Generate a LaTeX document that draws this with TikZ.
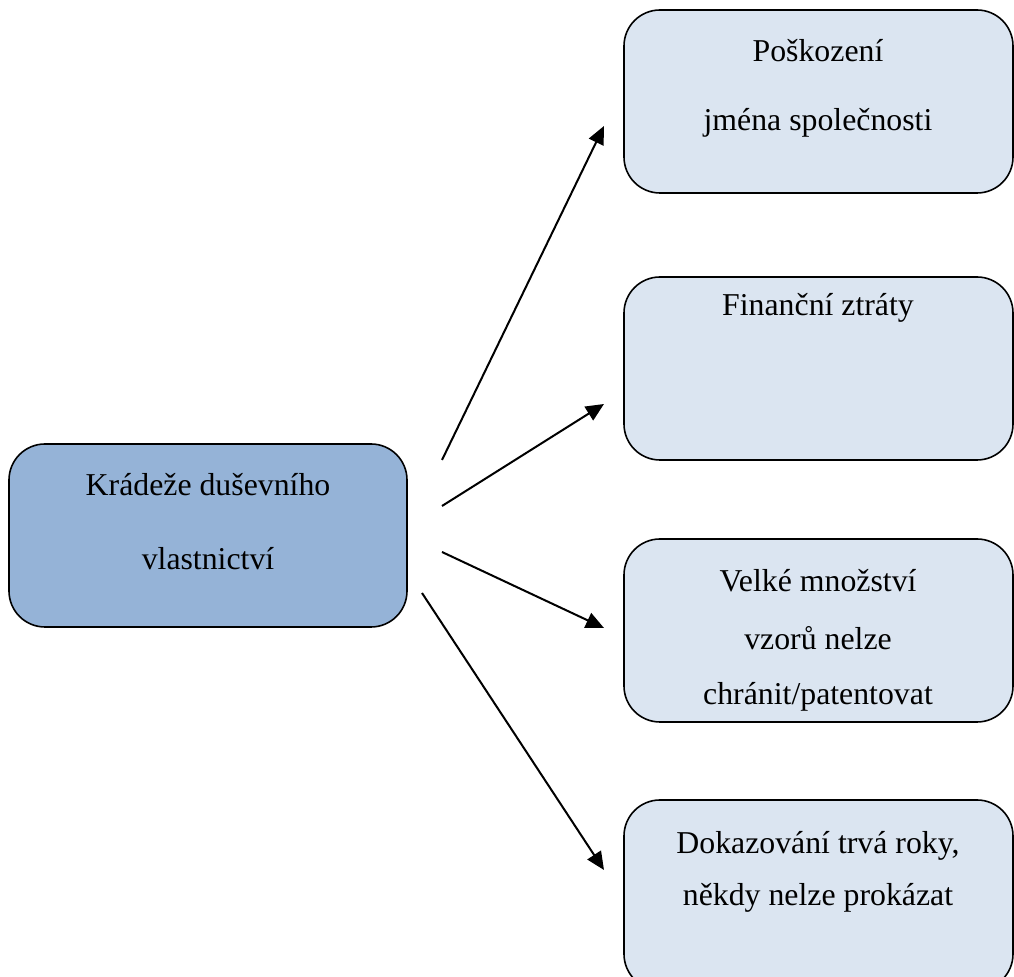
\documentclass[tikz,border=0pt]{standalone}
\usepackage{fontspec}
\setmainfont{Liberation Serif}
\usetikzlibrary{arrows.meta}
\definecolor{mainfill}{HTML}{95B3D7}
\definecolor{subfill}{HTML}{DBE5F1}
\begin{document}
\begin{tikzpicture}[x=0.5pt,y=-0.5pt,
  box/.style={draw=black, line width=0.8pt, rounded corners=18pt, fill=subfill},
  mainbox/.style={box, fill=mainfill},
  txt/.style={anchor=base, font=\fontsize{15.9pt}{19pt}\selectfont, inner sep=0pt},
  conn/.style={line width=1pt, -{Triangle[length=9pt,width=8pt]}}]
\useasboundingbox (0,0) rectangle (1014,977);

% boxes
\draw[mainbox] (9,444) rectangle (407,627);
\draw[box] (624,10) rectangle (1013,193);
\draw[box] (624,277) rectangle (1013,460);
\draw[box] (624,539) rectangle (1013,722);
\draw[box] (624,800) rectangle (1013,990);

% texts
\node[txt] (s1) at (208,496) {Krádeže duševního};
\node[txt] (s2) at (208,570) {vlastnictví};
\node[txt] (a1) at (818,62) {Poškození};
\node[txt] (a2) at (818,131) {jména společnosti};
\node[txt] (b1) at (818,316) {Finanční ztráty};
\node[txt] (c1) at (818,592) {Velké množství};
\node[txt] (c2) at (818,650) {vzorů nelze};
\node[txt] (c3) at (818,705) {chránit/patentovat};
\node[txt] (d1) at (818,854) {Dokazování trvá roky,};
\node[txt] (d2) at (818,906) {někdy nelze prokázat};

% connector ends
\coordinate (o1) at (442,460);
\coordinate (o2) at (442,506);
\coordinate (o3) at (442,552);
\coordinate (o4) at (422,593);
\coordinate (t1) at (604,126);
\coordinate (t2) at (604,404);
\coordinate (t3) at (604,628);
\coordinate (t4) at (604,870);

\draw[conn] (o1) -- (t1);
\draw[conn] (o2) -- (t2);
\draw[conn] (o3) -- (t3);
\draw[conn] (o4) -- (t4);
\end{tikzpicture}
\end{document}
